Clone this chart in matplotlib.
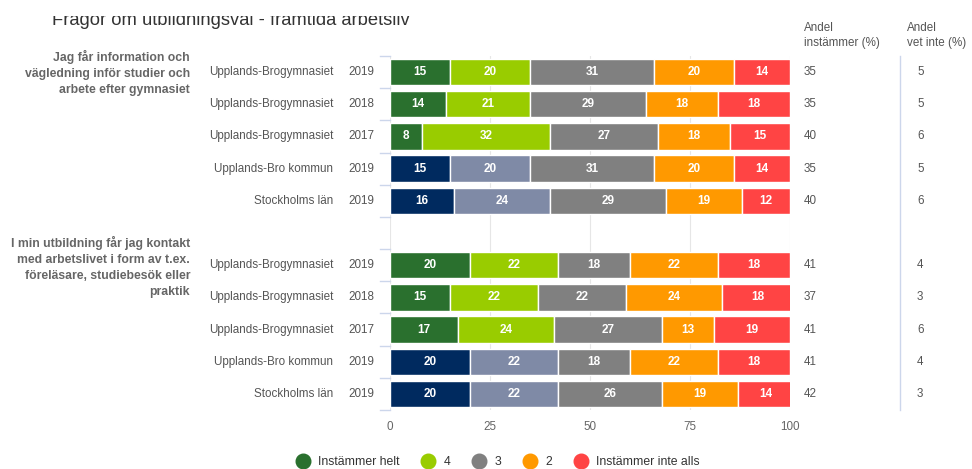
import matplotlib
matplotlib.use("Agg")
import matplotlib.pyplot as plt
from matplotlib.lines import Line2D
from matplotlib.patches import Rectangle
import numpy as np

plt.rcParams['font.family'] = ['Liberation Sans', 'DejaVu Sans']

title = "Frågor om utbildningsval - framtida arbetsliv"
questions = [
    "Jag får information och\nvägledning inför studier och\narbete efter gymnasiet",
    "I min utbildning får jag kontakt\nmed arbetslivet i form av t.ex.\nföreläsare, studiebesök eller\npraktik",
]
units = ["Upplands-Brogymnasiet", "Upplands-Brogymnasiet", "Upplands-Brogymnasiet",
         "Upplands-Bro kommun", "Stockholms län"]
years = ["2019", "2018", "2017", "2019", "2019"]
categories = ["Instämmer helt", "4", "3", "2", "Instämmer inte alls"]

# values per row: Instämmer helt, 4, 3, 2, Instämmer inte alls
q1_values = [
    [15, 20, 31, 20, 14],
    [14, 21, 29, 18, 18],
    [8, 32, 27, 18, 15],
    [15, 20, 31, 20, 14],
    [16, 24, 29, 19, 12],
]
q2_values = [
    [20, 22, 18, 22, 18],
    [15, 22, 22, 24, 18],
    [17, 24, 27, 13, 19],
    [20, 22, 18, 22, 18],
    [20, 22, 26, 19, 14],
]
q1_agree = [35, 35, 40, 35, 40]
q2_agree = [41, 37, 41, 41, 42]
q1_dontknow = [5, 5, 6, 5, 6]
q2_dontknow = [4, 3, 6, 4, 3]

school_colors = ["#2a702e", "#99cc00", "#808080", "#ff9900", "#ff4444"]
region_colors = ["#002a5f", "#7f8aa6", "#808080", "#ff9900", "#ff4444"]
label_gray = "#555555"

W, H = 972, 469
fig = plt.figure(figsize=(W / 100, H / 100), dpi=100)
ax_l, ax_r, ax_t, ax_b = 390, 790, 56, 410
ax = fig.add_axes([ax_l / W, 1 - ax_b / H, (ax_r - ax_l) / W, (ax_b - ax_t) / H])

rows = []
for q, vals, agree, dk in [(0, q1_values, q1_agree, q1_dontknow),
                           (1, q2_values, q2_agree, q2_dontknow)]:
    for i in range(5):
        rows.append((q * 6 + i, vals[i], agree[i], dk[i], units[i], years[i],
                     school_colors if i < 3 else region_colors))

yax = ax.get_yaxis_transform()
for y, vals, agree, dk, unit, year, cols in rows:
    left = 0
    for v, c in zip(vals, cols):
        ax.barh(y, v, left=left, height=0.82, color=c, edgecolor="white", linewidth=1, zorder=3)
        ax.text(left + v / 2, y, str(v), ha="center", va="center", color="white",
                fontsize=8.5, fontweight="bold", zorder=4)
        left += v
    ax.text(-0.1425, y, unit, transform=yax, ha="right", va="center", fontsize=8.4, color=label_gray)
    ax.text(-0.105, y, year, transform=yax, ha="left", va="center", fontsize=8.4, color=label_gray)
    ax.text(1.035, y, str(agree), transform=yax, ha="left", va="center", fontsize=8.4, color=label_gray)
    ax.text(1.3175, y, str(dk), transform=yax, ha="left", va="center", fontsize=8.4, color=label_gray)

ax.set_xlim(0, 100)
ax.set_ylim(10.5, -0.5)
ax.set_xticks([0, 25, 50, 75, 100])
ax.tick_params(axis="x", length=0, labelsize=8.4, labelcolor="#666666", pad=8)
ax.set_yticks([])
ax.grid(axis="x", color="#e6e6e6", linewidth=0.8, zorder=0)
for s in ax.spines.values():
    s.set_visible(False)

# category boundary ticks on the left
for b in np.arange(-0.5, 11, 1):
    ax.plot([-0.025, 0], [b, b], transform=yax, color="#ccd6eb", linewidth=1, clip_on=False)

# separator between the two right columns
ax.plot([1.275, 1.275], [0, 1], transform=ax.transAxes, color="#ccd6eb", linewidth=1, clip_on=False)

# group question labels
ax.text(-0.5, -0.68, questions[0], transform=yax, ha="right", va="top", fontsize=8.8,
        fontweight="bold", color="#666666", linespacing=1.45)
ax.text(-0.5, 5.1, questions[1], transform=yax, ha="right", va="top", fontsize=8.8,
        fontweight="bold", color="#666666", linespacing=1.45)

# right column headers
ax.text(1.035, 1.02, "Andel\ninstämmer (%)", transform=ax.transAxes, ha="left", va="bottom",
        fontsize=8.4, color=label_gray, linespacing=1.35)
ax.text(1.3175 - 0.025, 1.02, "Andel\nvet inte (%)", transform=ax.transAxes, ha="left", va="bottom",
        fontsize=8.4, color=label_gray, linespacing=1.35)

# title, its top cut off as in the screenshot
fig.text(52 / W, 1 - 25 / H, title, ha="left", va="baseline", fontsize=13.2, color="#333333")
fig.patches.append(Rectangle((0, 1 - 16.5 / H), 1, 16.5 / H, transform=fig.transFigure,
                             facecolor="white", edgecolor="none", zorder=10))

handles = [Line2D([], [], marker="o", linestyle="", markersize=10.5,
                  markerfacecolor=c, markeredgecolor=c) for c in school_colors]
fig.legend(handles, categories, loc="center", bbox_to_anchor=(495 / W, 1 - 462 / H), ncol=5,
           frameon=False, fontsize=8.8, handletextpad=0.25, columnspacing=1.35,
           labelcolor="#333333")

fig.savefig("out.png", dpi=100)
